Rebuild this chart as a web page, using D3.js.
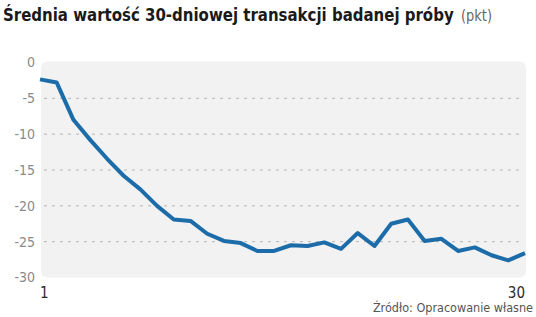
<!DOCTYPE html>
<html>
<head>
<meta charset="utf-8">
<script src="https://cdn.jsdelivr.net/npm/d3@7"></script>
<style>
  body { margin: 0; background: #fff; }
  svg { display: block; }
</style>
</head>
<body>
<svg id="chart"></svg>
<script>
// dane
const days = d3.range(1, 31);
const values = [
    -2.35, -2.8, -8.0, -10.8, -13.4, -15.8, -17.7, -20.0, -21.9, -22.1,
    -23.9, -24.9, -25.2, -26.3, -26.3, -25.5, -25.6, -25.1, -26.0, -23.8,
    -25.6, -22.5, -21.9, -24.9, -24.6, -26.3, -25.8, -26.9, -27.6, -26.6
];
const yTicks = [0, -5, -10, -15, -20, -25, -30];
const xTickLabels = [1, 30];

const W = 536, H = 317;
const margin = { top: 62.5, right: 11, bottom: 39.5, left: 40 };
const width = W - margin.left - margin.right;
const height = H - margin.top - margin.bottom;

const font = '"DejaVu Sans Condensed", "DejaVu Sans"';

const svg = d3.select('#chart')
    .attr('width', W)
    .attr('height', H);

// tytul - sciskany w poziomie do szerokosci z oryginalu
const title = svg.append('text')
    .attr('x', 0)
    .attr('y', 0)
    .style('font-family', font)
    .style('font-size', '18.5px')
    .style('font-weight', 'bold')
    .attr('fill', '#1a1a1a')
    .text('Średnia wartość 30-dniowej transakcji badanej próby');
const titleW = title.node().getComputedTextLength();
title.attr('transform', `translate(3, 21) scale(${451 / titleW}, 1)`);

const unit = svg.append('text')
    .attr('x', 0)
    .attr('y', 0)
    .style('font-family', font)
    .style('font-size', '15.5px')
    .attr('fill', '#666')
    .text('(pkt)');
const unitW = unit.node().getComputedTextLength();
unit.attr('transform', `translate(461, 21) scale(${31 / unitW}, 1)`);

const g = svg.append('g')
    .attr('transform', `translate(${margin.left}, ${margin.top})`);

const xScale = d3.scaleLinear()
    .domain([1, 30])
    .range([0, width]);

const yScale = d3.scaleLinear()
    .domain([-30, 0])
    .range([height, 0]);

// tlo
g.append('rect')
    .attr('x', 1)
    .attr('y', -1)
    .attr('width', width)
    .attr('height', height + 1)
    .attr('rx', 6)
    .attr('fill', '#f2f2f2');

// siatka
g.selectAll('.grid')
    .data(yTicks.filter(d => d !== 0 && d !== -30))
    .join('line')
    .attr('class', 'grid')
    .attr('x1', 4)
    .attr('x2', width - 4)
    .attr('y1', d => yScale(d))
    .attr('y2', d => yScale(d))
    .attr('stroke', '#b5b5b5')
    .attr('stroke-width', 1)
    .attr('stroke-dasharray', '3,5');

// os Y
const yAxis = g.append('g')
    .call(d3.axisLeft(yScale).tickValues(yTicks).tickSize(0).tickPadding(5).tickFormat(d => d));
yAxis.select('.domain').remove();
yAxis.selectAll('text')
    .style('font-family', font)
    .style('font-size', '14px')
    .attr('fill', '#8a8a8a');

// os X - tylko 1 i 30
g.selectAll('.xlab')
    .data(xTickLabels)
    .join('text')
    .attr('class', 'xlab')
    .attr('x', d => xScale(d))
    .attr('y', height + 20)
    .attr('text-anchor', (d, i) => i === 0 ? 'start' : 'end')
    .style('font-family', font)
    .style('font-size', '15px')
    .attr('fill', '#2a2a2a')
    .text(d => d);

// linia
const line = d3.line()
    .x((d, i) => xScale(days[i]))
    .y(d => yScale(d));

g.append('path')
    .datum(values)
    .attr('fill', 'none')
    .attr('stroke', '#1b6ca8')
    .attr('stroke-width', 4)
    .attr('stroke-linejoin', 'round')
    .attr('d', line);

// zrodlo
svg.append('text')
    .attr('x', W - 3)
    .attr('y', H - 5)
    .attr('text-anchor', 'end')
    .style('font-family', font)
    .style('font-size', '12.5px')
    .attr('fill', '#555')
    .text('Źródło: Opracowanie własne');
</script>
</body>
</html>
